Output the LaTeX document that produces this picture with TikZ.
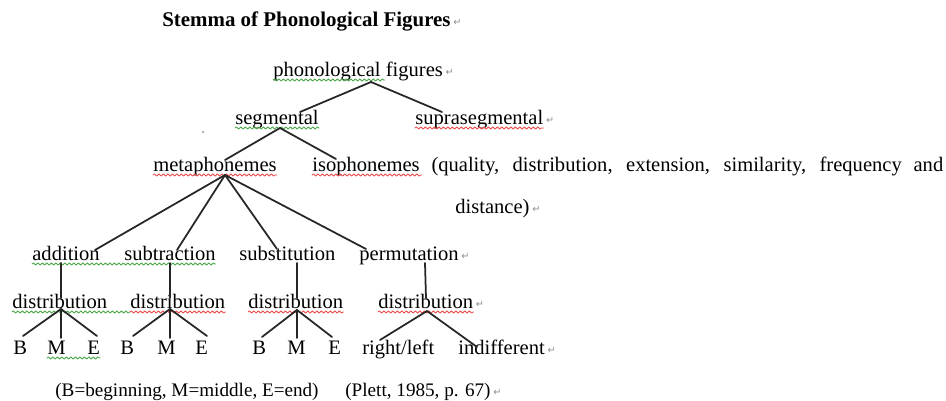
\documentclass[tikz,border=0pt]{standalone}
\usepackage{fontspec}
\setmainfont{Liberation Serif}
\newfontfamily\symfont{DejaVu Sans}
\usetikzlibrary{decorations.pathmorphing}
\definecolor{spellred}{RGB}{235,70,70}
\definecolor{gramgreen}{RGB}{70,165,70}
\definecolor{markgray}{RGB}{140,140,140}
\newcommand{\pmark}{{\symfont\fontsize{5.5}{6}\selectfont\char"21B5}}

\begin{document}
\begin{tikzpicture}[line cap=round,line join=round,x=0.02cm,y=-0.02cm,
    word/.style={anchor=base west,inner sep=0pt,font=\fontsize{11.7}{14}\selectfont},
    parmark/.style={anchor=base west,inner sep=0pt,text=markgray,xshift=1.2pt,yshift=1pt},
    branch/.style={line width=1pt,color=black!85},
    wavy/.style={line width=0.45pt,decorate,decoration={snake,segment length=0.09cm,amplitude=0.022cm}}]
            \useasboundingbox (0,0) rectangle (946,401);
            % title and texts
            \node[word,font=\fontsize{11.9}{14}\selectfont\bfseries] (title) at (162,27) {Stemma of Phonological Figures};
            \node[word] (pf) at (273,77) {phonological figures};
            \node[word] (seg) at (235,125) {segmental};
            \node[word] (supra) at (415,125) {suprasegmental};
            \node[word] (meta) at (153,172) {metaphonemes};
            \node[word] (iso) at (312,172) {\makebox[12.62cm][s]{isophonemes (quality, distribution, extension, similarity, frequency and}};
            \node[word] (dist) at (455,214) {distance)};
            \node[word] (add) at (32,261) {addition};
            \node[word] (sub) at (124,261) {subtraction};
            \node[word] (subst) at (239,261) {substitution};
            \node[word] (perm) at (359,261) {permutation};
            \node[word] (d1) at (12,309) {distribution};
            \node[word] (d2) at (130,309) {distribution};
            \node[word] (d3) at (248,309) {distribution};
            \node[word] (d4) at (378,309) {distribution};
            \node[word] (b1) at (13,355) {B};
            \node[word] (m1) at (47,355) {M};
            \node[word] (e1) at (87,355) {E};
            \node[word] (b2) at (120,355) {B};
            \node[word] (m2) at (157,355) {M};
            \node[word] (e2) at (195,355) {E};
            \node[word] (b3) at (252,355) {B};
            \node[word] (m3) at (287,355) {M};
            \node[word] (e3) at (328,355) {E};
            \node[word] (rl) at (362,355) {right/left};
            \node[word] (ind) at (458,355) {indifferent};
            \node[word,font=\fontsize{10.9}{13}\selectfont] (key) at (55,397) {(B=beginning, M=middle, E=end)};
            \node[word,font=\fontsize{10.9}{13}\selectfont] (cite) at (345,397) {(Plett, 1985, p. 67)};
            % paragraph marks
            \node[parmark] (title-pm) at (title.base east) {\pmark};
            \node[parmark] (pf-pm) at (pf.base east) {\pmark};
            \node[parmark] (supra-pm) at (supra.base east) {\pmark};
            \node[parmark] (dist-pm) at (dist.base east) {\pmark};
            \node[parmark] (perm-pm) at (perm.base east) {\pmark};
            \node[parmark] (d4-pm) at (d4.base east) {\pmark};
            \node[parmark] (ind-pm) at (ind.base east) {\pmark};
            \node[parmark] (cite-pm) at (cite.base east) {\pmark};
            % spelling and grammar marks
            \draw[wavy,gramgreen] ([yshift=-1.7pt]pf.base west) -- (385,80);
            \draw[wavy,gramgreen] ([yshift=-1.7pt]seg.base west) -- ([yshift=-1.7pt]seg.base east);
            \draw[wavy,spellred] ([yshift=-1.7pt]supra.base west) -- ([yshift=-1.7pt]supra.base east);
            \draw[wavy,spellred] ([yshift=-1.7pt]meta.base west) -- ([yshift=-1.7pt]meta.base east);
            \draw[wavy,spellred] ([yshift=-1.7pt]iso.base west) -- (422,175);
            \draw[wavy,gramgreen] ([yshift=-1.7pt]add.base west) -- ([yshift=-1.7pt]sub.base east);
            \draw[wavy,gramgreen] ([yshift=-1.7pt]d1.base west) -- ([yshift=-1.7pt]d2.base west);
            \draw[wavy,spellred] ([yshift=-1.7pt]d2.base west) -- ([yshift=-1.7pt]d2.base east);
            \draw[wavy,spellred] ([yshift=-1.7pt]d3.base west) -- ([yshift=-1.7pt]d3.base east);
            \draw[wavy,spellred] ([yshift=-1.7pt]d4.base west) -- ([yshift=-1.7pt]d4.base east);
            \draw[wavy,gramgreen] ([yshift=-1.7pt]m1.base west) -- ([yshift=-1.7pt]e1.base east);
            \fill[black!60] (203,132) circle (0.5pt);
            % joints
            \coordinate (pf-b) at (371,82);
            \coordinate (seg-t) at (300,112);
            \coordinate (supra-t) at (442,112);
            \coordinate (seg-b) at (280,128);
            \coordinate (meta-t) at (225,160);
            \coordinate (iso-t) at (336,159);
            \coordinate (meta-b) at (225,175);
            \coordinate (add-t) at (95,250);
            \coordinate (sub-t) at (177,250);
            \coordinate (subst-t) at (277,249);
            \coordinate (perm-t) at (366,249);
            \coordinate (add-b) at (61,263);
            \coordinate (sub-b) at (170,263);
            \coordinate (subst-b) at (297,263);
            \coordinate (perm-b) at (425,263);
            \coordinate (d1-t) at (61,298);
            \coordinate (d2-t) at (170,298);
            \coordinate (d3-t) at (297,298);
            \coordinate (d4-t) at (426,298);
            \coordinate (d1-b) at (61,309);
            \coordinate (d2-b) at (170,309);
            \coordinate (d3-b) at (297,310);
            \coordinate (d4-b) at (427,311);
            % branches
            \draw[branch] (pf-b) -- (seg-t);
            \draw[branch] (pf-b) -- (supra-t);
            \draw[branch] (seg-b) -- (meta-t);
            \draw[branch] (seg-b) -- (iso-t);
            \draw[branch] (meta-b) -- (add-t);
            \draw[branch] (meta-b) -- (sub-t);
            \draw[branch] (meta-b) -- (subst-t);
            \draw[branch] (meta-b) -- (perm-t);
            \draw[branch] (add-b) -- (d1-t);
            \draw[branch] (sub-b) -- (d2-t);
            \draw[branch] (subst-b) -- (d3-t);
            \draw[branch] (perm-b) -- (d4-t);
            \draw[branch] (d1-b) -- (23,336);
            \draw[branch] (d1-b) -- (61,338);
            \draw[branch] (d1-b) -- (97,336);
            \draw[branch] (d2-b) -- (133,336);
            \draw[branch] (d2-b) -- (170,338);
            \draw[branch] (d2-b) -- (207,336);
            \draw[branch] (d3-b) -- (262,337);
            \draw[branch] (d3-b) -- (297,338);
            \draw[branch] (d3-b) -- (332,337);
            \draw[branch] (d4-b) -- (380,340);
            \draw[branch] (d4-b) -- (477,347);
        \end{tikzpicture}
\end{document}
